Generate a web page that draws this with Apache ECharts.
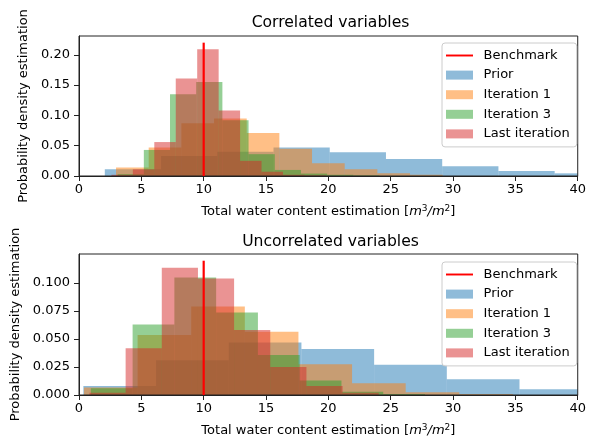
<!DOCTYPE html>
<html>
<head>
<meta charset="utf-8">
<script src="https://cdn.jsdelivr.net/npm/echarts@6/dist/echarts.min.js"></script>
<style>
html, body { margin: 0; padding: 0; background: #fff; }
#chart { width: 589px; height: 440px; }
</style>
</head>
<body>
<div id="chart"></div>
<script>
// tick positions
const xTicks = [0, 5, 10, 15, 20, 25, 30, 35, 40];
const yTicksCorr = [0, 0.05, 0.10, 0.15, 0.20];
const yTicksUncorr = [0, 0.025, 0.05, 0.075, 0.1];
const benchmark = 10;

// correlated variables: bin edges + densities
const priorEdgesC = [2.07, 6.58, 11.09, 15.60, 20.11, 24.62, 29.13, 33.64, 38.15, 42.66];
const priorDensC = [0.011, 0.033, 0.040, 0.047, 0.039, 0.028, 0.016, 0.0083, 0.0044];
const iter1EdgesC = [2.97, 5.59, 8.21, 10.83, 13.45, 16.07, 18.69, 21.31, 23.93, 26.55, 29.17];
const iter1DensC = [0.014, 0.047, 0.087, 0.095, 0.071, 0.045, 0.021, 0.011, 0.0044, 0.002];
const iter3EdgesC = [3.1, 5.2, 7.3, 9.4, 11.5, 13.6, 15.7, 17.8, 19.9, 22.0, 24.1];
const iter3DensC = [0.003, 0.043, 0.135, 0.155, 0.092, 0.036, 0.010, 0.004, 0.002, 0.001];
const lastEdgesC = [2.6, 4.32, 6.04, 7.76, 9.48, 11.2, 12.92, 14.64, 16.36, 18.08, 19.8];
const lastDensC = [0.002, 0.011, 0.056, 0.161, 0.209, 0.108, 0.025, 0.007, 0.002, 0.001];

// uncorrelated variables
const priorEdgesU = [0.35, 6.18, 12.01, 17.84, 23.67, 29.50, 35.33, 41.16];
const priorDensU = [0.008, 0.031, 0.047, 0.041, 0.027, 0.014, 0.0051];
const iter1EdgesU = [0.4, 4.7, 9.0, 13.3, 17.6, 21.9, 26.2, 30.5, 34.8];
const iter1DensU = [0.0068, 0.0536, 0.079, 0.0565, 0.0274, 0.0104, 0.0024, 0.0009];
const iter3EdgesU = [0.95, 4.3, 7.65, 11.0, 14.35, 17.7, 21.05, 24.4, 27.75];
const iter3DensU = [0.006, 0.063, 0.105, 0.0738, 0.0357, 0.013, 0.003, 0.001];
const lastEdgesU = [0.84, 3.74, 6.64, 9.54, 12.44, 15.34, 18.24, 21.14, 24.04];
const lastDensU = [0.002, 0.0417, 0.1137, 0.104, 0.058, 0.025, 0.008, 0.002];

const FONT = 'DejaVu Sans';
const colors = {
    'Prior': 'rgba(31,119,180,0.5)',
    'Iteration 1': 'rgba(255,127,14,0.5)',
    'Iteration 3': 'rgba(44,160,44,0.5)',
    'Last iteration': 'rgba(214,39,40,0.5)'
};

function hist(name, edges, dens, idx) {
    let data = dens.map((d, i) => [edges[i], edges[i + 1], d]);
    return {
        name: name,
        type: 'custom',
        xAxisIndex: idx,
        yAxisIndex: idx,
        itemStyle: { color: colors[name] },
        encode: { x: [0, 1], y: 2 },
        clip: true,
        renderItem: (params, api) => {
            let p0 = api.coord([api.value(0), api.value(2)]);
            let p1 = api.coord([api.value(1), 0]);
            let cs = params.coordSys;
            let shape = echarts.graphic.clipRectByRect(
                { x: p0[0], y: p0[1], width: p1[0] - p0[0], height: p1[1] - p0[1] },
                { x: cs.x, y: cs.y, width: cs.width, height: cs.height }
            );
            if (!shape) return;
            return { type: 'rect', shape: shape, style: api.style() };
        },
        data: data
    };
}

function benchLine(top, idx) {
    return {
        name: 'Benchmark',
        type: 'line',
        xAxisIndex: idx,
        yAxisIndex: idx,
        symbol: 'none',
        color: '#ff0000',
        lineStyle: { color: '#ff0000', width: 2.2 },
        z: 5,
        data: [[benchmark, 0], [benchmark, top]]
    };
}

const xName = '{n|Total water content estimation [}{i|m}{s|3}{i|/m}{s|2}{n|]}';
const xNameRich = {
    n: { fontFamily: FONT, fontSize: 13, color: '#000', lineHeight: 16 },
    i: { fontFamily: FONT, fontSize: 13, fontStyle: 'italic', color: '#000', lineHeight: 16 },
    s: { fontFamily: FONT, fontSize: 9, color: '#000', verticalAlign: 'top', lineHeight: 16 }
};

function xAxis(idx) {
    return {
        type: 'value', gridIndex: idx, min: 0, max: 40, interval: 5,
        name: xName, nameLocation: 'middle', nameGap: 28,
        nameTextStyle: { rich: xNameRich },
        axisLine: { show: true, lineStyle: { color: '#222', width: 1 } },
        axisTick: { show: true, length: 5, lineStyle: { color: '#222' } },
        axisLabel: { color: '#000', fontFamily: FONT, fontSize: 13, margin: 7, customValues: xTicks },
        splitLine: { show: false },
        z: 4
    };
}

function yAxis(idx, max, ticks, digits, gap) {
    return {
        type: 'value', gridIndex: idx, min: 0, max: max,
        name: 'Probability density estimation', nameLocation: 'middle', nameGap: gap,
        nameTextStyle: { color: '#000', fontFamily: FONT, fontSize: 13 },
        axisLine: { show: true, lineStyle: { color: '#222', width: 1 } },
        axisTick: { show: true, length: 5, lineStyle: { color: '#222' }, customValues: ticks },
        axisLabel: {
            color: '#000', fontFamily: FONT, fontSize: 13, margin: 9, customValues: ticks,
            formatter: (v) => v.toFixed(digits)
        },
        splitLine: { show: false },
        z: 4
    };
}

function legend(top) {
    let names = ['Prior', 'Iteration 1', 'Iteration 3', 'Last iteration'];
    return {
        top: top, left: 442, orient: 'vertical',
        itemWidth: 27, itemHeight: 9, itemGap: 5.6,
        padding: [5.5, 7, 6, 4],
        backgroundColor: 'rgba(255,255,255,0.8)',
        borderColor: '#cccccc', borderWidth: 1, borderRadius: 3,
        selectedMode: false,
        textStyle: { fontFamily: FONT, fontSize: 13, color: '#000', lineHeight: 14, padding: [0, 0, 0, 5.6] },
        data: [{ name: 'Benchmark', icon: 'path://M0,0L28,0L28,2L0,2Z' }]
            .concat(names.map(n => ({ name: n, icon: 'rect' })))
    };
}

function title(text, top) {
    return {
        text: text, left: 330.5, top: top, textAlign: 'center', padding: 0,
        textStyle: { fontFamily: FONT, fontSize: 15.6, fontWeight: 'normal', color: '#000' }
    };
}

const chart = echarts.init(document.getElementById('chart'));
chart.setOption({
    animation: false,
    backgroundColor: '#fff',
    title: [title('Correlated variables', 15), title('Uncorrelated variables', 234)],
    legend: [legend(43), legend(262)],
    grid: [
        { left: 79, top: 36, width: 503, height: 140, show: true, borderColor: '#222', borderWidth: 1, z: 3 },
        { left: 79, top: 254, width: 503, height: 141, show: true, borderColor: '#222', borderWidth: 1, z: 3 }
    ],
    xAxis: [xAxis(0), xAxis(1)],
    yAxis: [
        yAxis(0, 0.231, yTicksCorr, 2, 43),
        yAxis(1, 0.126, yTicksUncorr, 3, 50)
    ],
    series: [
        hist('Prior', priorEdgesC, priorDensC, 0),
        hist('Iteration 1', iter1EdgesC, iter1DensC, 0),
        hist('Iteration 3', iter3EdgesC, iter3DensC, 0),
        hist('Last iteration', lastEdgesC, lastDensC, 0),
        benchLine(0.22, 0),
        hist('Prior', priorEdgesU, priorDensU, 1),
        hist('Iteration 1', iter1EdgesU, iter1DensU, 1),
        hist('Iteration 3', iter3EdgesU, iter3DensU, 1),
        hist('Last iteration', lastEdgesU, lastDensU, 1),
        benchLine(0.12, 1)
    ]
});
</script>
</body>
</html>
